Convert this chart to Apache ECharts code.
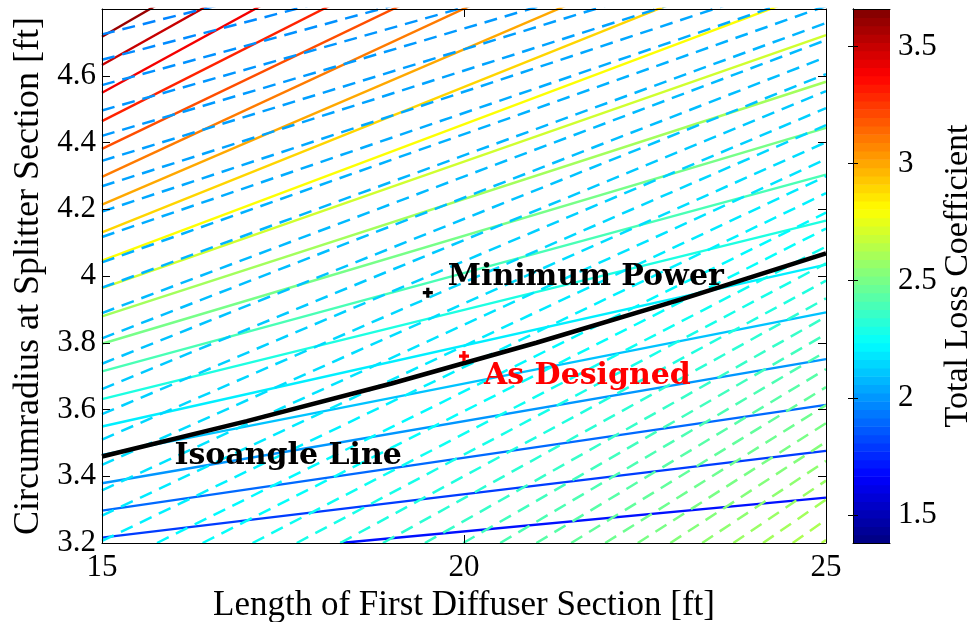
<!DOCTYPE html>
<html>
<head>
<meta charset="utf-8">
<script src="https://cdn.jsdelivr.net/npm/echarts@6/dist/echarts.min.js"></script>
<style>
html, body { margin: 0; padding: 0; background: #fff; }
#main { width: 972px; height: 622px; }
</style>
</head>
<body>
<div id="main"></div>
<script>
// solid contours: total loss coefficient (start point, value at x = 25)
var lossLevels = [1.7, 1.8, 1.9, 2.0, 2.1, 2.2, 2.3, 2.4, 2.5, 2.6, 2.7, 2.8, 2.9, 3.0, 3.1, 3.2, 3.3, 3.4, 3.5, 3.6];
var lossX0 = [18.29, 15, 15, 15, 15, 15, 15, 15, 15, 15, 15, 15, 15, 15, 15, 15, 15, 15, 15, 15];
var lossY0 = [3.2, 3.216, 3.297, 3.379, 3.464, 3.549, 3.631, 3.714, 3.797, 3.879, 3.964, 4.046, 4.131, 4.214, 4.297, 4.381, 4.464, 4.549, 4.632, 4.717];
var lossY1 = [3.336, 3.476, 3.614, 3.751, 3.891, 4.034, 4.166, 4.304, 4.444, 4.582, 4.722, 4.863, 5.002, 5.144, 5.305, 5.423, 5.563, 5.737, 5.852, 5.969];

// dashed contours (start point, value at x = 25)
var dashLevels = [1.96, 1.975, 1.99, 2.0, 2.01, 2.02, 2.03, 2.04, 2.05, 2.06, 2.07, 2.08, 2.09, 2.10, 2.115, 2.13, 2.145, 2.16, 2.175, 2.19, 2.205,
                  2.225, 2.245, 2.265, 2.285, 2.305, 2.33, 2.355, 2.38, 2.405, 2.43, 2.455, 2.48, 2.505, 2.53, 2.555, 2.58, 2.60, 2.62, 2.64];
var dashX0 = [15, 15, 15, 15, 15, 15, 15, 15, 15, 15, 15, 15, 15, 15, 15, 15, 15, 15, 15, 15, 15,
              15.76, 16.39, 17.08, 17.69, 18.29, 18.88, 19.46, 19.99, 20.50, 21.0, 21.48, 21.95, 22.40, 22.85, 23.29, 23.72, 24.13, 24.54, 24.94];
var dashY0 = [4.724, 4.648, 4.572, 4.496, 4.420, 4.345, 4.269, 4.193, 4.117, 4.041, 3.965, 3.889, 3.813, 3.737, 3.661, 3.586, 3.510, 3.434, 3.358, 3.282, 3.206,
              3.2, 3.2, 3.2, 3.2, 3.2, 3.2, 3.2, 3.2, 3.2, 3.2, 3.2, 3.2, 3.2, 3.2, 3.2, 3.2, 3.2, 3.2, 3.2];
var dashY1 = [5.267, 5.216, 5.165, 5.114, 5.063, 5.013, 4.962, 4.911, 4.860, 4.809, 4.758, 4.707, 4.656, 4.605, 4.554, 4.503, 4.452, 4.401, 4.350, 4.299, 4.248,
              4.190, 4.142, 4.088, 4.038, 3.986, 3.933, 3.878, 3.826, 3.774, 3.721, 3.667, 3.613, 3.559, 3.503, 3.446, 3.387, 3.330, 3.270, 3.209];

// isoangle line
var isoX = [15, 17, 19, 21, 23, 25];
var isoY = [3.459, 3.565, 3.678, 3.800, 3.930, 4.068];

var minPower = [19.5, 3.95];
var asDesigned = [20.0, 3.76];
var isoLabelAt = [16.0, 3.467];

var xTicks = [15, 20, 25];
var yTicks = [3.2, 3.4, 3.6, 3.8, 4.0, 4.2, 4.4, 4.6];
var cbarTicks = [1.5, 2, 2.5, 3, 3.5];
var cbarMin = 1.38, cbarMax = 3.66, cbarSteps = 64;

function jet(v) {
    var t = (v - cbarMin) / (cbarMax - cbarMin);
    t = Math.max(0, Math.min(1, t));
    function c(x) { return Math.round(255 * Math.max(0, Math.min(1, x))); }
    return 'rgb(' + c(1.5 - Math.abs(4 * t - 3)) + ',' + c(1.5 - Math.abs(4 * t - 2)) + ',' + c(1.5 - Math.abs(4 * t - 1)) + ')';
}

var serif = 'Liberation Serif';
var bold = 'DejaVu Serif';
var plus = 'path://M3.4,0H6.6V3.4H10V6.6H6.6V10H3.4V6.6H0V3.4H3.4Z';

var series = [];

lossLevels.forEach(function (lv, i) {
    series.push({
        type: 'line', silent: true, showSymbol: false, z: 2,
        data: [[lossX0[i], lossY0[i]], [25, lossY1[i]]],
        lineStyle: { color: jet(lv), width: 2.4 }
    });
});

dashLevels.forEach(function (lv, i) {
    series.push({
        type: 'line', silent: true, showSymbol: false, z: 3,
        data: [[dashX0[i], dashY0[i]], [25, dashY1[i]]],
        lineStyle: { color: jet(lv), width: 2.5, type: [13, 8] }
    });
});

series.push({
    type: 'line', silent: true, showSymbol: false, z: 4,
    data: isoX.map(function (x, i) { return [x, isoY[i]]; }),
    lineStyle: { color: '#000', width: 4.5 }
});

function note(text, color, offset) {
    return { show: true, position: 'right', distance: 15, offset: offset, formatter: text,
             fontFamily: bold, fontWeight: 'bold', fontSize: 30, color: color,
             opacity: 1, textBorderWidth: 0 };
}

series.push({
    type: 'scatter', z: 5, symbol: plus, symbolSize: 10, silent: true,
    itemStyle: { color: '#000', opacity: 1 },
    data: [minPower],
    label: note('Minimum Power', '#000', [0, -15])
});
series.push({
    type: 'scatter', z: 5, symbol: plus, symbolSize: 10, silent: true,
    itemStyle: { color: '#ff0000', opacity: 1 },
    data: [asDesigned],
    label: note('As Designed', '#ff0000', [0, 20])
});
var isoNote = note('Isoangle Line', '#000', [0, 2]);
isoNote.distance = 0;
series.push({
    type: 'scatter', z: 5, symbolSize: 0, silent: true,
    itemStyle: { opacity: 1 },
    data: [isoLabelAt],
    label: isoNote
});

var bands = [];
for (var b = 0; b < cbarSteps; b++) bands.push([b]);
series.push({
    type: 'custom', xAxisIndex: 2, yAxisIndex: 2, silent: true, z: 2,
    data: bands,
    renderItem: function (params, api) {
        var i = api.value(0);
        var step = (cbarMax - cbarMin) / cbarSteps;
        var lo = cbarMin + i * step, hi = lo + step;
        var p0 = api.coord([0, lo]), p1 = api.coord([1, hi]);
        return {
            type: 'rect',
            shape: { x: p0[0], y: p1[1], width: p1[0] - p0[0], height: p0[1] - p1[1] + 0.6 },
            style: { fill: jet(lo + step / 2) }
        };
    }
});

var tickStyle = { color: '#000', width: 1 };
var labelFont = { fontFamily: serif, fontSize: 31, color: '#000' };

var option = {
    animation: false,
    backgroundColor: '#fff',
    grid: [
        { left: 102, top: 9, width: 724, height: 534, outerBoundsMode: 'none' },
        { left: 853, top: 9, width: 37, height: 534, outerBoundsMode: 'none' }
    ],
    xAxis: [
        { gridIndex: 0, type: 'value', min: 15, max: 25, position: 'bottom', z: 10,
          axisLine: { show: true, lineStyle: tickStyle },
          axisTick: { inside: true, length: 8, customValues: xTicks, lineStyle: tickStyle },
          axisLabel: Object.assign({ customValues: xTicks, margin: 9 }, labelFont),
          splitLine: { show: false },
          name: 'Length of First Diffuser Section [ft]', nameLocation: 'middle', nameGap: 22,
          nameTextStyle: { fontFamily: serif, fontSize: 35, color: '#000' } },
        { gridIndex: 0, type: 'value', min: 15, max: 25, position: 'top', z: 10,
          axisLine: { show: true, lineStyle: tickStyle },
          axisTick: { inside: true, length: 8, customValues: xTicks, lineStyle: tickStyle },
          axisLabel: { show: false }, splitLine: { show: false } },
        { gridIndex: 1, type: 'value', min: 0, max: 1, position: 'bottom', z: 10,
          axisLine: { show: true, lineStyle: tickStyle },
          axisTick: { show: false }, axisLabel: { show: false }, splitLine: { show: false } },
        { gridIndex: 1, type: 'value', min: 0, max: 1, position: 'top', z: 10,
          axisLine: { show: true, lineStyle: tickStyle },
          axisTick: { show: false }, axisLabel: { show: false }, splitLine: { show: false } }
    ],
    yAxis: [
        { gridIndex: 0, type: 'value', min: 3.2, max: 4.8, position: 'left', z: 10,
          axisLine: { show: true, lineStyle: tickStyle },
          axisTick: { inside: true, length: 8, customValues: yTicks, lineStyle: tickStyle },
          axisLabel: Object.assign({ customValues: yTicks, margin: 6,
              formatter: function (v) { return v.toFixed(1).replace(/\.0$/, ''); } }, labelFont),
          splitLine: { show: false },
          name: 'Circumradius at Splitter Section [ft]', nameLocation: 'middle', nameGap: 53,
          nameTextStyle: { fontFamily: serif, fontSize: 36, color: '#000' } },
        { gridIndex: 0, type: 'value', min: 3.2, max: 4.8, position: 'right', z: 10,
          axisLine: { show: true, lineStyle: tickStyle },
          axisTick: { inside: true, length: 8, customValues: yTicks, lineStyle: tickStyle },
          axisLabel: { show: false }, splitLine: { show: false } },
        { gridIndex: 1, type: 'value', min: cbarMin, max: cbarMax, position: 'right', z: 10,
          axisLine: { show: true, lineStyle: tickStyle },
          axisTick: { inside: true, length: 5, customValues: cbarTicks, lineStyle: tickStyle },
          axisLabel: Object.assign({ customValues: cbarTicks, margin: 8 }, labelFont),
          splitLine: { show: false },
          name: 'Total Loss Coefficient', nameLocation: 'middle', nameGap: 50,
          nameTextStyle: { fontFamily: serif, fontSize: 34, color: '#000' } },
        { gridIndex: 1, type: 'value', min: cbarMin, max: cbarMax, position: 'left', z: 10,
          axisLine: { show: true, lineStyle: tickStyle },
          axisTick: { inside: true, length: 5, customValues: cbarTicks, lineStyle: tickStyle },
          axisLabel: { show: false }, splitLine: { show: false } }
    ],
    series: series
};

var myChart = echarts.init(document.getElementById('main'));
myChart.setOption(option);
</script>
</body>
</html>
